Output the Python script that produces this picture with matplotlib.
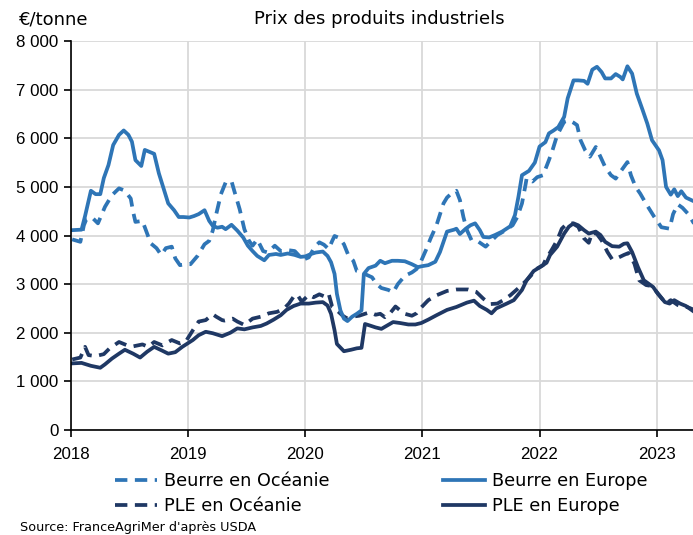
import matplotlib
matplotlib.use("Agg")
import matplotlib.pyplot as plt
from matplotlib.ticker import FuncFormatter, MultipleLocator

# Prix en €/tonne, dates en années décimales (lecture du graphique)
beurre_oce_t = [2018.01, 2018.08, 2018.11, 2018.13, 2018.18, 2018.23, 2018.29, 2018.35, 2018.41, 2018.46,
                2018.51, 2018.53, 2018.55, 2018.61, 2018.65, 2018.68, 2018.73, 2018.77, 2018.81, 2018.86,
                2018.89, 2018.93, 2018.98, 2019.02, 2019.08, 2019.14, 2019.18, 2019.21, 2019.24, 2019.28,
                2019.32, 2019.37, 2019.39, 2019.44, 2019.48, 2019.52, 2019.55, 2019.59, 2019.64, 2019.68,
                2019.74, 2019.79, 2019.85, 2019.91, 2019.98, 2020.03, 2020.08, 2020.12, 2020.16, 2020.20,
                2020.23, 2020.25, 2020.29, 2020.33, 2020.37, 2020.41, 2020.44, 2020.48, 2020.57, 2020.61,
                2020.65, 2020.71, 2020.75, 2020.79, 2020.85, 2020.91, 2020.95, 2020.99, 2021.03, 2021.07,
                2021.12, 2021.18, 2021.21, 2021.25, 2021.29, 2021.32, 2021.35, 2021.38, 2021.42, 2021.48,
                2021.54, 2021.58, 2021.64, 2021.69, 2021.77, 2021.81, 2021.85, 2021.88, 2021.89, 2021.94,
                2021.98, 2022.03, 2022.08, 2022.11, 2022.15, 2022.21, 2022.25, 2022.29, 2022.32, 2022.35,
                2022.39, 2022.43, 2022.48, 2022.52, 2022.56, 2022.61, 2022.65, 2022.69, 2022.75, 2022.78,
                2022.82, 2022.86, 2022.91, 2022.98, 2023.04, 2023.11, 2023.14, 2023.18, 2023.22, 2023.27,
                2023.32]
beurre_oce = [3920, 3870, 4210, 4330, 4370, 4250, 4590, 4830, 4970, 4920,
              4760, 4490, 4280, 4300, 4040, 3840, 3740, 3600, 3740, 3770,
              3530, 3390, 3410, 3410, 3580, 3820, 3890, 4100, 4440, 4850,
              5090, 5120, 4950, 4540, 4130, 3890, 3790, 3920, 3680, 3650,
              3790, 3680, 3700, 3680, 3500, 3550, 3760, 3860, 3810, 3720,
              3890, 3990, 3950, 3820, 3580, 3480, 3270, 3240, 3140, 3000,
              2920, 2880, 2830, 3000, 3170, 3240, 3310, 3480, 3700, 3940,
              4210, 4660, 4780, 4870, 4920, 4730, 4380, 4110, 3900, 3870,
              3770, 3870, 4010, 4080, 4210, 4380, 4660, 5040, 5180, 5110,
              5200, 5240, 5550, 5750, 6060, 6340, 6370, 6320, 6270, 5960,
              5750, 5620, 5820, 5620, 5410, 5240, 5170, 5310, 5510, 5240,
              5000, 4860, 4650, 4380, 4170, 4140, 4440, 4640, 4570, 4440,
              4240]

beurre_eur_t = [2018.01, 2018.09, 2018.12, 2018.17, 2018.21, 2018.25, 2018.28, 2018.32, 2018.36, 2018.41,
                2018.45, 2018.49, 2018.52, 2018.55, 2018.60, 2018.63, 2018.71, 2018.75, 2018.79, 2018.83,
                2018.88, 2018.92, 2018.96, 2019.01, 2019.05, 2019.09, 2019.14, 2019.18, 2019.21, 2019.25,
                2019.29, 2019.32, 2019.37, 2019.42, 2019.47, 2019.51, 2019.55, 2019.59, 2019.65, 2019.69,
                2019.75, 2019.79, 2019.85, 2019.91, 2019.96, 2020.00, 2020.05, 2020.09, 2020.15, 2020.19,
                2020.22, 2020.25, 2020.27, 2020.30, 2020.33, 2020.36, 2020.40, 2020.44, 2020.48, 2020.50,
                2020.54, 2020.60, 2020.64, 2020.68, 2020.74, 2020.79, 2020.85, 2020.91, 2020.96, 2021.00,
                2021.05, 2021.11, 2021.15, 2021.21, 2021.27, 2021.29, 2021.32, 2021.37, 2021.41, 2021.45,
                2021.49, 2021.52, 2021.57, 2021.62, 2021.68, 2021.75, 2021.79, 2021.82, 2021.85, 2021.91,
                2021.96, 2022.00, 2022.05, 2022.08, 2022.12, 2022.16, 2022.21, 2022.24, 2022.29, 2022.33,
                2022.38, 2022.41, 2022.45, 2022.49, 2022.53, 2022.56, 2022.61, 2022.65, 2022.69, 2022.71,
                2022.75, 2022.79, 2022.83, 2022.88, 2022.92, 2022.96, 2023.02, 2023.05, 2023.08, 2023.12,
                2023.15, 2023.18, 2023.21, 2023.25, 2023.32]
beurre_eur = [4110, 4120, 4400, 4920, 4850, 4850, 5180, 5450, 5860, 6070,
              6160, 6070, 5930, 5550, 5430, 5760, 5680, 5280, 4970, 4660,
              4520, 4380, 4380, 4370, 4400, 4440, 4520, 4300, 4200, 4160,
              4180, 4130, 4220, 4100, 3960, 3790, 3680, 3580, 3490, 3600,
              3620, 3600, 3630, 3600, 3560, 3570, 3620, 3650, 3670, 3580,
              3450, 3210, 2800, 2460, 2290, 2240, 2330, 2390, 2460, 3210,
              3330, 3380, 3480, 3430, 3480, 3480, 3470, 3410, 3350, 3370,
              3390, 3460, 3660, 4080, 4120, 4140, 4030, 4140, 4210, 4250,
              4110, 3970, 3960, 4010, 4080, 4190, 4420, 4800, 5240, 5330,
              5500, 5830, 5920, 6100, 6160, 6230, 6440, 6820, 7190, 7190,
              7180, 7120, 7410, 7470, 7360, 7230, 7230, 7320, 7260, 7210,
              7480, 7330, 6920, 6580, 6300, 5960, 5750, 5550, 5000, 4840,
              4950, 4810, 4910, 4780, 4700]

ple_oce_t = [2018.01, 2018.08, 2018.12, 2018.15, 2018.21, 2018.28, 2018.33, 2018.41, 2018.48, 2018.53,
             2018.61, 2018.66, 2018.71, 2018.78, 2018.86, 2018.93, 2018.98, 2019.04, 2019.09, 2019.15,
             2019.21, 2019.24, 2019.29, 2019.31, 2019.38, 2019.42, 2019.48, 2019.55, 2019.62, 2019.69,
             2019.76, 2019.82, 2019.86, 2019.90, 2019.93, 2019.97, 2020.03, 2020.07, 2020.12, 2020.17,
             2020.20, 2020.23, 2020.27, 2020.32, 2020.36, 2020.40, 2020.46, 2020.51, 2020.55, 2020.60,
             2020.64, 2020.68, 2020.72, 2020.77, 2020.81, 2020.85, 2020.91, 2020.95, 2020.99, 2021.05,
             2021.12, 2021.21, 2021.29, 2021.39, 2021.46, 2021.52, 2021.58, 2021.64, 2021.69, 2021.75,
             2021.83, 2021.89, 2021.98, 2022.03, 2022.05, 2022.11, 2022.15, 2022.19, 2022.22, 2022.28,
             2022.33, 2022.38, 2022.42, 2022.45, 2022.49, 2022.53, 2022.58, 2022.62, 2022.66, 2022.72,
             2022.76, 2022.81, 2022.85, 2022.91, 2022.96, 2023.02, 2023.08, 2023.12, 2023.18, 2023.22,
             2023.26, 2023.32]
ple_oce = [1450, 1490, 1710, 1540, 1520, 1560, 1680, 1810, 1740, 1720,
           1760, 1710, 1810, 1740, 1850, 1780, 1820, 2050, 2230, 2260,
           2380, 2330, 2260, 2250, 2290, 2230, 2160, 2290, 2330, 2400,
           2430, 2500, 2600, 2740, 2790, 2640, 2780, 2730, 2790, 2740,
           2800, 2530, 2460, 2350, 2290, 2330, 2350, 2390, 2420, 2370,
           2390, 2320, 2390, 2540, 2460, 2390, 2350, 2400, 2520, 2670,
           2770, 2860, 2890, 2890, 2840, 2700, 2590, 2600, 2670, 2770,
           2940, 3080, 3320, 3390, 3490, 3730, 3900, 4140, 4210, 4250,
           4180, 3940, 3850, 4060, 4030, 3900, 3660, 3510, 3530, 3600,
           3640, 3420, 3080, 2980, 2960, 2780, 2600, 2670, 2570, 2530,
           2530, 2470]

ple_eur_t = [2018.01, 2018.09, 2018.17, 2018.25, 2018.29, 2018.35, 2018.41, 2018.46, 2018.53, 2018.59,
             2018.65, 2018.71, 2018.78, 2018.83, 2018.89, 2018.95, 2019.04, 2019.09, 2019.15, 2019.21,
             2019.29, 2019.36, 2019.42, 2019.48, 2019.55, 2019.62, 2019.67, 2019.73, 2019.79, 2019.84,
             2019.90, 2019.96, 2020.03, 2020.09, 2020.15, 2020.19, 2020.22, 2020.25, 2020.27, 2020.33,
             2020.39, 2020.44, 2020.48, 2020.51, 2020.55, 2020.60, 2020.65, 2020.70, 2020.75, 2020.81,
             2020.88, 2020.94, 2020.99, 2021.05, 2021.12, 2021.21, 2021.29, 2021.38, 2021.44, 2021.49,
             2021.55, 2021.59, 2021.63, 2021.72, 2021.78, 2021.85, 2021.89, 2021.95, 2022.01, 2022.06,
             2022.09, 2022.15, 2022.21, 2022.25, 2022.29, 2022.33, 2022.38, 2022.42, 2022.48, 2022.52,
             2022.56, 2022.62, 2022.68, 2022.72, 2022.75, 2022.79, 2022.84, 2022.89, 2022.97, 2023.01,
             2023.07, 2023.11, 2023.15, 2023.20, 2023.25, 2023.32]
ple_eur = [1370, 1380, 1320, 1280, 1350, 1470, 1570, 1650, 1570, 1490,
           1610, 1710, 1630, 1570, 1600, 1710, 1850, 1950, 2020, 1990,
           1930, 2000, 2090, 2070, 2110, 2140, 2190, 2270, 2360, 2470,
           2550, 2600, 2600, 2620, 2630, 2560, 2390, 2050, 1770, 1620,
           1650, 1680, 1690, 2180, 2150, 2110, 2080, 2150, 2220, 2200,
           2170, 2170, 2200, 2270, 2360, 2470, 2530, 2620, 2660, 2550,
           2470, 2400, 2500, 2600, 2670, 2880, 3080, 3270, 3360, 3440,
           3600, 3770, 4040, 4180, 4250, 4210, 4110, 4040, 4080, 4010,
           3870, 3780, 3770, 3830, 3840, 3660, 3350, 3080, 2940, 2800,
           2630, 2600, 2670, 2600, 2550, 2430]

YEARS = [2018, 2019, 2020, 2021, 2022, 2023]

LIGHT = "#2E75B6"
DARK = "#1F3864"
GRID = "#D9D9D9"
DASH = (0, (3.3, 2))

plt.rcParams["font.family"] = ["Liberation Sans", "DejaVu Sans"]
TEXT_FONT = ["DejaVu Sans"]

fig = plt.figure(figsize=(6.93, 5.35), dpi=100)
ax = fig.add_axes([71 / 693, 1 - 430 / 535, 1 - 71 / 693, (430 - 41) / 535])

lw = 2.7
l_bo, = ax.plot(beurre_oce_t, beurre_oce, color=LIGHT, lw=lw, linestyle=DASH, label="Beurre en Océanie")
l_po, = ax.plot(ple_oce_t, ple_oce, color=DARK, lw=lw, linestyle=DASH, label="PLE en Océanie")
l_be, = ax.plot(beurre_eur_t, beurre_eur, color=LIGHT, lw=lw, label="Beurre en Europe")
l_pe, = ax.plot(ple_eur_t, ple_eur, color=DARK, lw=lw, label="PLE en Europe")

ax.set_xlim(2018, 2023.31)
ax.set_ylim(0, 8000)
ax.set_xticks(YEARS)
ax.set_xticklabels([str(y) for y in YEARS])
ax.yaxis.set_major_locator(MultipleLocator(1000))
ax.yaxis.set_major_formatter(FuncFormatter(lambda v, p: f"{v:,.0f}".replace(",", " ")))
ax.grid(True, color=GRID, lw=1.3)
ax.set_axisbelow(True)
for side in ["top", "right"]:
    ax.spines[side].set_visible(False)
ax.spines["left"].set_linewidth(1.2)
ax.spines["bottom"].set_linewidth(1.2)
ax.tick_params(axis="both", direction="out", length=5, width=1.2, labelsize=12.2, colors="black")
ax.tick_params(axis="x", pad=7)
ax.tick_params(axis="y", pad=4)

fig.text(19 / 693, 1 - 19 / 535, "€/tonne", fontsize=13, family=TEXT_FONT,
         ha="left", va="center")
fig.text(379 / 693, 1 - 19 / 535, "Prix des produits industriels", fontsize=13,
         family=TEXT_FONT, ha="center", va="center")

fig.legend(handles=[l_bo, l_po, l_be, l_pe], ncol=2, loc="center left",
           bbox_to_anchor=(115 / 693, 1 - 493.5 / 535), frameon=False,
           prop={"family": TEXT_FONT, "size": 12.7},
           handlelength=2.4, handletextpad=0.4, columnspacing=6.4, labelspacing=0.4,
           borderpad=0, borderaxespad=0)

fig.text(20 / 693, 1 - 528 / 535, "Source: FranceAgriMer d'après USDA", fontsize=9.2,
         family=TEXT_FONT, ha="left", va="center")

fig.savefig("out.png", dpi=100)
